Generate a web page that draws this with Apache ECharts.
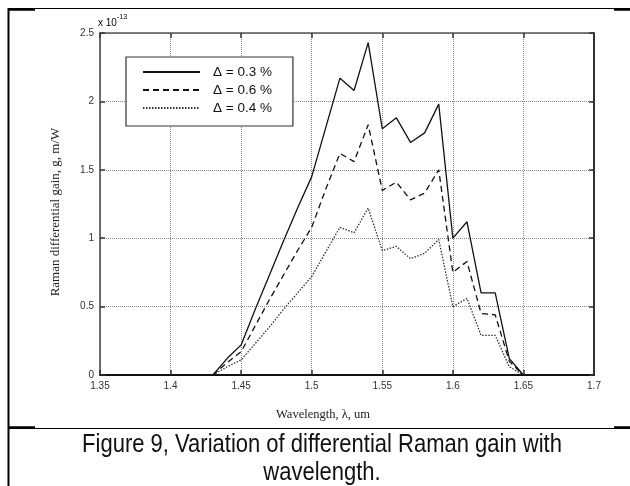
<!DOCTYPE html>
<html>
<head>
<meta charset="utf-8">
<script src="https://cdn.jsdelivr.net/npm/echarts@6/dist/echarts.min.js"></script>
<style>
html,body{margin:0;padding:0;background:#fff;}
#c{width:630px;height:486px;}
</style>
</head>
<body>
<div id="c"></div>
<script>
// ---- data ----
var wavelengths = [1.43,1.44,1.45,1.46,1.47,1.48,1.49,1.50,1.51,1.52,1.53,1.54,1.55,1.56,1.57,1.58,1.59,1.60,1.61,1.62,1.63,1.64,1.65];
var gain08 = [0,0.12,0.22,0.48,0.73,0.98,1.22,1.45,1.81,2.17,2.08,2.43,1.80,1.88,1.70,1.77,1.98,1.00,1.12,0.60,0.60,0.12,0];
var gain06 = [0,0.09,0.17,0.36,0.55,0.73,0.91,1.08,1.36,1.62,1.56,1.83,1.35,1.41,1.28,1.33,1.50,0.75,0.83,0.45,0.44,0.10,0];
var gain04 = [0,0.06,0.11,0.23,0.35,0.48,0.60,0.72,0.90,1.08,1.04,1.22,0.91,0.94,0.85,0.89,0.99,0.50,0.56,0.29,0.29,0.06,0];
var seriesNames = ['\u0394 = 0.3 %','\u0394 = 0.6 %','\u0394 = 0.4 %'];
var xTickLabels = ['1.35','1.4','1.45','1.5','1.55','1.6','1.65','1.7'];
var yTickLabels = ['0','0.5','1','1.5','2','2.5'];

function pairs(xs, ys){ return xs.map(function(x,i){ return [x, ys[i]]; }); }

var chart = echarts.init(document.getElementById('c'), null, {renderer:'canvas'});
var tickFont = {fontFamily:'Liberation Sans', fontSize:10, color:'#333'};
var gridCol = '#8a8a8a';
var xMin = 1.35, xMax = 1.7, xInt = 0.05;

var option = {
  backgroundColor:'#fff',
  animation:false,
  grid:{left:100, right:36, top:33, bottom:111, containLabel:false},
  legend:{
    left:126, top:57, orient:'vertical',
    data:seriesNames,
    backgroundColor:'#fff',
    borderColor:'#333', borderWidth:1.2,
    padding:[8,21,11,16],
    itemGap:4, itemWidth:57, itemHeight:12,
    itemStyle:{opacity:0},
    textStyle:{fontFamily:'Liberation Sans', fontSize:13.5, color:'#111', padding:[0,0,0,8], lineHeight:12}
  },
  xAxis:[{
    type:'value', min:xMin, max:xMax, interval:xInt,
    axisLine:{show:true, onZero:false, lineStyle:{color:'#111', width:2}},
    axisTick:{show:true, inside:true, length:5, lineStyle:{color:'#333', width:1.5}},
    axisLabel:{show:true, margin:6, fontFamily:tickFont.fontFamily, fontSize:tickFont.fontSize, color:tickFont.color,
      formatter:function(v){ var i=Math.round((v-xMin)/xInt); return xTickLabels[i]; }},
    splitLine:{show:true, lineStyle:{color:gridCol, type:[1,1], width:1}}
  },{
    type:'value', position:'top', min:xMin, max:xMax, interval:xInt,
    axisLine:{show:true, onZero:false, lineStyle:{color:'#555', width:1.5}},
    axisTick:{show:true, inside:true, length:5, lineStyle:{color:'#333', width:1.5}},
    axisLabel:{show:false}, splitLine:{show:false}
  }],
  yAxis:[{
    type:'value', min:0, max:2.5, interval:0.5,
    axisLine:{show:true, onZero:false, lineStyle:{color:'#444', width:1.5}},
    axisTick:{show:true, inside:true, length:5, lineStyle:{color:'#333', width:1.5}},
    axisLabel:{show:true, margin:6, fontFamily:tickFont.fontFamily, fontSize:tickFont.fontSize, color:tickFont.color,
      formatter:function(v){ var i=Math.round(v/0.5); return yTickLabels[i]; }},
    splitLine:{show:true, lineStyle:{color:gridCol, type:[1,1], width:1}}
  },{
    type:'value', position:'right', min:0, max:2.5, interval:0.5,
    axisLine:{show:true, onZero:false, lineStyle:{color:'#333', width:2}},
    axisTick:{show:true, inside:true, length:5, lineStyle:{color:'#333', width:1.5}},
    axisLabel:{show:false}, splitLine:{show:false}
  }],
  series:[
    {name:seriesNames[0], type:'line', data:pairs(wavelengths,gain08), symbol:'none', z:5,
      lineStyle:{color:'#111', width:1.3, type:'solid'}, itemStyle:{color:'#111'}},
    {name:seriesNames[1], type:'line', data:pairs(wavelengths,gain06), symbol:'none', z:4,
      lineStyle:{color:'#111', width:1.3, type:[6,4]}, itemStyle:{color:'#111'}},
    {name:seriesNames[2], type:'line', data:pairs(wavelengths,gain04), symbol:'none', z:3,
      lineStyle:{color:'#333', width:1.3, type:[1.5,1.5]}, itemStyle:{color:'#333'}}
  ],
  graphic:[
    // page/table borders
    {type:'line', shape:{x1:8.5,y1:8,x2:8.5,y2:486}, style:{stroke:'#000', lineWidth:2}},
    {type:'line', shape:{x1:8,y1:8.5,x2:630,y2:8.5}, style:{stroke:'#000', lineWidth:1.2}},
    {type:'line', shape:{x1:8,y1:9.5,x2:35,y2:9.5}, style:{stroke:'#000', lineWidth:2.5}},
    {type:'line', shape:{x1:614,y1:9.5,x2:630,y2:9.5}, style:{stroke:'#000', lineWidth:2.5}},
    {type:'line', shape:{x1:8,y1:428.5,x2:630,y2:428.5}, style:{stroke:'#000', lineWidth:1.2}},
    {type:'line', shape:{x1:8,y1:427.5,x2:35,y2:427.5}, style:{stroke:'#000', lineWidth:2.5}},
    {type:'line', shape:{x1:614,y1:427.5,x2:630,y2:427.5}, style:{stroke:'#000', lineWidth:2.5}},
    // exponent
    {type:'text', left:98, top:14, style:{
      text:'{a|x 10}{b|-13}',
      rich:{a:{fontFamily:'Liberation Sans', fontSize:10, color:'#333', padding:[4,0,0,0]},
            b:{fontFamily:'Liberation Sans', fontSize:7, color:'#333', verticalAlign:'top'}}
    }},
    // axis titles
    {type:'text', x:56, y:212, rotation:Math.PI/2, style:{
      text:'Raman differential gain, g, m/W', fontFamily:'Liberation Serif', fontSize:13, fill:'#222',
      align:'center', verticalAlign:'middle'}},
    {type:'text', x:323, y:415, style:{
      text:'Wavelength, \u03bb, um', fontFamily:'Liberation Serif', fontSize:12.5, fill:'#222',
      align:'center', verticalAlign:'middle'}},
    // caption
    {type:'text', x:322, y:445, scaleX:0.88, style:{
      text:'Figure 9, Variation of differential Raman gain with', fontFamily:'Liberation Sans', fontSize:25, fill:'#111',
      align:'center', verticalAlign:'middle'}},
    {type:'text', x:322, y:473, scaleX:0.88, style:{
      text:'wavelength.', fontFamily:'Liberation Sans', fontSize:25, fill:'#111',
      align:'center', verticalAlign:'middle'}}
  ]
};
chart.setOption(option);
</script>
</body>
</html>
